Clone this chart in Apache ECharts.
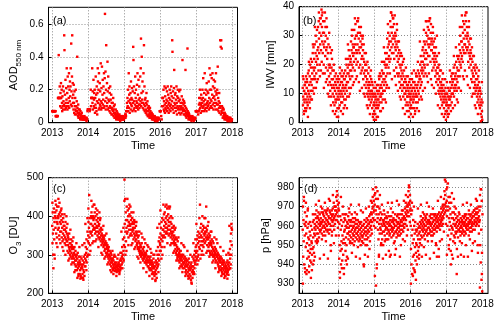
<!DOCTYPE html>
<html>
<head>
  <meta charset="utf-8">
  <title>AOD, IWV, O3, p 2013-2018</title>
  <script src="https://cdn.jsdelivr.net/npm/echarts@6.0.0/dist/echarts.min.js"></script>
  <style>
    html, body { margin: 0; padding: 0; background: #fff; }
    #main { width: 500px; height: 326px; }
  </style>
</head>
<body>
<div id="main"></div>
<script>
  // tick values
  var years = [2013, 2014, 2015, 2016, 2017, 2018];
  var aodTicks = [0, 0.2, 0.4, 0.6];
  var iwvTicks = [0, 10, 20, 30, 40];
  var o3Ticks = [200, 300, 400, 500];
  var pTicks = [930, 940, 950, 960, 970, 980];

  // 144 samples per year (about one every 2.5 days), one line per month, null = no data
  var aod2013 = [
    .07,.07,.07,.07,.07,.07,.07,.07,.07,.07,.07,.07,
    .07,.07,.04,.04,.04,.04,.04,.04,null,.04,.04,.15,
    .15,.15,.41,.15,.15,.15,.22,.15,.1,.18,.15,.24,
    .15,.09,.2,.12,.07,.16,.1,.22,.08,.13,.19,.11,
    .53,.44,.1,.17,.08,.26,.12,.09,.21,.14,.33,.1,
    .18,.08,.28,.12,.22,.1,.15,.3,.09,.2,.13,.25,
    .16,.22,.33,.11,.48,.19,.1,.28,.53,.15,.24,.12,
    .17,.08,.23,.12,.06,.19,.1,.05,.15,.08,.2,.07,
    .1,.05,.13,.07,.4,.09,.06,.04,.11,.03,.08,.05,
    .06,.03,.08,.05,.02,.07,.04,.03,.05,.02,.06,.03,
    .03,.02,.04,.02,.03,.02,.02,.03,.02,.04,.02,.03,
    .02,.03,.02,null,.02,.01,.03,null,.02,.07,.08,.08
  ];
  var aod2014 = [
    .08,.08,.08,.08,.08,.08,.07,null,.08,null,.2,.1,
    .15,.15,.15,.15,.33,.12,.19,.08,.15,.26,.1,.14,
    .18,.09,.2,.06,.15,.11,.28,.09,.17,.07,.22,.13,
    .05,.18,.33,.25,.12,.2,.08,.3,.14,.09,.24,.11,
    .19,.1,.36,.13,.08,.21,.12,.34,.09,.17,.26,.11,
    .14,.22,.09,.3,.18,.1,.27,.66,.13,.31,.08,.2,
    .47,.15,.1,.24,.12,.37,.19,.08,.28,.14,.09,.21,
    .13,.07,.18,.1,.22,.06,.14,.09,.17,.05,.12,.08,
    .09,.05,.12,.07,.15,.04,.08,.1,.06,.03,.11,.05,
    .06,.03,.08,.04,.02,.05,.07,.03,.04,.06,.02,.05,
    .03,.02,.04,.03,.02,.05,.02,.03,.01,.04,.02,.03,
    .02,.03,.02,.04,.02,.03,.02,.03,.04,.02,.03,.02
  ];
  var aod2015 = [
    .03,.03,.03,.03,.05,.03,.05,.04,.07,.07,.07,.12,
    .09,.15,.1,.2,.07,.13,.3,.09,.17,.22,.06,.14,
    .12,.18,.08,.25,.11,.15,.1,.21,.14,.07,.19,.12,
    .46,.38,.08,.22,.13,.09,.18,.11,.28,.07,.15,.2,
    .1,.13,.09,.23,.12,.3,.1,.17,.08,.26,.14,.11,
    .22,.09,.15,.11,.28,.13,.33,.51,.1,.18,.4,.12,
    .14,.25,.09,.19,.12,.3,.08,.47,.11,.22,.07,.14,
    .1,.15,.06,.12,.08,.18,.05,.11,.07,.13,.04,.09,
    .07,.04,.1,.05,.08,.03,.06,.09,.04,.07,.03,.05,
    .05,.03,.06,.02,.04,.03,.05,.02,.04,.03,.02,.04,
    .03,.02,.04,.01,.03,.02,.02,.03,.01,.02,.03,.02,
    .02,.01,.03,.02,.02,null,.03,null,.02,null,.07,.07
  ];
  var aod2016 = [
    .07,.07,.07,null,.04,null,.02,.1,null,.15,.15,.15,
    .1,.2,.08,.13,.07,.22,.11,.06,.16,.09,.21,.12,
    .08,.14,.1,.19,.07,.13,.22,.09,.17,.11,.06,.15,
    .12,.08,.2,.1,.14,.07,.18,.11,.22,.09,.16,.13,
    .5,.43,.08,.19,.1,.15,.06,.21,.32,.12,.09,.17,
    .11,.18,.07,.14,.09,.22,.12,.05,.16,.1,.2,.08,
    .15,.09,.13,.06,.19,.1,.14,.08,.2,.05,.12,.09,
    .1,.06,.16,.08,.12,.38,.09,.14,.07,.11,.05,.13,
    .08,.12,.05,.1,.07,.32,.04,.09,.06,.03,.08,.05,
    .06,.45,.07,.04,.05,.02,.06,.03,.05,.04,.02,.03,
    .03,.02,.04,.02,.03,.01,.02,.03,.02,.04,.02,.03,
    .02,.03,.01,.02,.03,.02,null,.02,null,.03,.07,.07
  ];
  var aod2017 = [
    .07,.07,.07,.07,null,.07,.07,null,.05,null,.07,.11,
    .15,.08,.12,.2,.09,.15,.06,.11,.17,.1,.14,.07,
    .12,.2,.09,.15,.27,.1,.13,.07,.18,.11,.3,.08,
    .14,.09,.2,.11,.17,.07,.24,.12,.09,.19,.13,.1,
    .18,.11,.25,.08,.15,.33,.12,.2,.09,.29,.14,.1,
    .2,.13,.27,.09,.17,.3,.11,.22,.15,.08,.26,.12,
    .16,.21,.1,.25,.14,.19,.08,.3,.12,.17,.18,.11,
    .2,.08,.34,.11,.15,.07,.13,.09,.18,.06,.12,.1,
    .5,.09,.46,.05,.5,.07,.45,.1,.06,.08,.03,.09,
    .06,.04,.08,.03,.05,.02,.06,.04,.03,.05,.02,.04,
    .04,.02,.03,.02,.04,.01,.03,.02,.03,.02,.01,.03,
    .02,.03,.02,.01,.02,.03,.01,.02,.02,.01,.02,.02
  ];

  var iwv2013 = [
    12,6,9,15,8,4,11,7,13,10,5,14,
    8,16,10,5,12,7,14,9,6,17,11,8,
    18,10,13,7,16,20,9,14,11,19,8,15,
    13,21,17,11,24,15,19,26,12,18,22,16,
    27,19,15,24,30,21,17,28,23,32,20,25,
    22,33,26,18,35,29,24,31,20,36,27,34,
    36,25,30,39,21,33,28,38,24,31,35,27,
    20,31,26,35,17,28,23,33,30,19,25,36,
    26,15,22,29,18,24,13,27,20,16,31,19,
    14,20,11,17,24,13,9,19,15,22,12,18,
    10,15,7,13,18,9,12,6,16,11,14,8,
    7,13,4,10,15,8,12,5,9,14,2,11
  ];
  var iwv2014 = [
    12,8,15,10,6,13,17,9,11,14,7,16,
    10,14,7,12,16,9,13,11,5,15,8,12,
    15,10,18,12,8,16,13,20,11,14,9,17,
    19,14,22,17,25,12,20,16,23,18,15,21,
    22,28,18,25,20,30,16,24,27,19,23,26,
    26,21,32,24,18,29,27,34,22,30,25,20,
    30,24,35,27,21,31,36,25,29,19,33,26,
    24,31,20,28,17,26,30,22,18,27,23,29,
    19,25,15,22,27,17,21,13,24,18,20,16,
    16,12,20,14,18,10,15,21,13,9,17,11,
    12,8,14,10,6,13,16,9,11,7,15,10,
    8,11,5,13,9,3,10,6,12,7,4,9
  ];
  var iwv2015 = [
    6,10,3,8,12,5,9,7,2,11,6,8,
    10,5,13,8,6,11,15,7,9,12,4,10,
    13,9,16,7,12,18,10,14,8,17,11,15,
    17,13,21,15,11,20,24,14,19,16,22,12,
    24,20,29,17,26,22,31,19,27,23,28,21,
    30,25,35,22,33,28,38,26,31,24,37,29,
    33,27,36,24,30,34,22,29,37,26,31,28,
    25,30,19,27,23,32,17,26,21,28,16,24,
    22,17,25,14,20,23,12,19,16,24,13,18,
    15,20,11,17,13,21,9,16,12,18,14,10,
    12,8,15,10,6,14,11,16,7,13,9,12,
    9,13,6,11,4,10,14,7,12,5,9,8
  ];
  var iwv2016 = [
    10,6,13,8,11,15,5,12,9,7,14,10,
    8,12,5,14,9,11,4,13,7,10,16,9,
    12,16,9,13,7,18,11,14,10,17,8,15,
    16,12,20,15,23,13,18,21,14,19,17,25,
    21,26,18,23,16,28,20,24,19,27,22,17,
    25,31,22,28,35,24,30,20,33,27,23,29,
    32,26,35,23,29,36,27,21,31,34,25,28,
    25,29,18,27,22,31,24,19,28,21,26,23,
    20,24,16,22,18,26,14,21,17,23,19,15,
    17,13,19,11,15,20,10,16,12,18,14,9,
    11,14,8,13,10,6,12,15,7,11,9,13,
    8,5,11,7,10,3,9,12,4,8,6,10
  ];
  var iwv2017 = [
    7,4,10,6,3,9,12,5,8,11,6,9,
    11,8,14,6,12,9,16,10,7,13,15,10,
    14,10,17,12,19,9,15,11,20,13,16,12,
    17,13,21,15,11,19,23,14,18,16,22,12,
    23,18,27,21,16,25,30,20,24,19,28,22,
    28,23,33,26,21,31,35,25,29,24,34,27,
    32,27,37,24,30,35,26,38,29,33,25,31,
    26,30,21,28,24,33,19,27,23,29,22,25,
    20,24,15,22,18,26,14,21,17,23,16,19,
    16,12,19,14,10,18,13,20,11,15,17,12,
    12,9,15,7,13,10,16,8,11,14,6,12,
    9,5,11,7,3,10,6,8,2,4,1,7
  ];
  // extra IWV days at the edges of the spread, 3 per month, 2013-2017
  var iwvEdge = [
    16,3,13, 4,15,2, 21,5,22, 8,27,10, 33,12,14, 15,38,16, 18,37,17, 12,38,14, 33,10,9, 26,6,25, 4,20,3, 17,2,16,
    5,19,4, 18,3,17, 6,22,5, 27,9,10, 12,32,13, 14,36,15, 16,35,14, 11,33,12, 30,10,9, 24,6,5, 19,3,18, 14,2,1,
    14,1,13, 2,16,17, 4,21,5, 26,8,7, 13,34,12, 17,38,15, 36,18,16, 13,34,11, 28,9,8, 23,5,22, 3,19,4, 16,2,15,
    3,17,2, 18,3,17, 5,21,4, 28,9,8, 11,32,12, 35,16,14, 17,36,15, 13,33,12, 29,10,30, 6,24,5, 18,3,17, 2,15,1,
    14,2,3, 18,4,17, 5,23,6, 26,8,7, 12,33,11, 37,16,15, 18,38,16, 13,35,12, 29,9,10, 23,6,5, 19,3,18, 12,0.5,14
  ];

  var o32013 = [
    375,330,410,355,300,395,365,420,340,385,290,400,
    410,370,395,430,355,415,385,345,425,380,400,365,
    395,425,370,405,350,435,385,410,360,400,380,415,
    360,390,345,405,370,335,385,355,395,340,375,365,
    350,375,330,365,345,385,325,360,340,370,335,355,
    335,310,350,325,345,305,340,320,355,315,330,300,
    310,330,295,320,340,305,325,290,315,335,300,320,
    295,315,280,305,290,320,275,300,285,310,270,295,
    285,270,300,260,290,275,305,265,280,250,295,275,
    270,285,250,280,260,295,245,275,265,290,240,270,
    265,250,285,240,275,260,295,255,280,245,270,300,
    290,270,320,285,305,340,280,315,295,360,300,335
  ];
  var o32014 = [
    350,385,330,370,455,345,395,360,325,380,355,400,
    380,410,360,395,350,425,375,400,365,390,430,370,
    395,365,410,380,355,400,370,420,360,390,375,405,
    370,350,385,360,395,345,375,355,380,340,365,390,
    345,360,335,370,350,325,355,340,365,330,350,345,
    335,320,345,325,340,310,330,350,315,335,325,305,
    315,330,300,320,305,325,295,315,310,290,320,300,
    300,285,310,275,295,290,305,280,270,300,285,290,
    280,265,290,275,260,285,270,295,265,275,258,280,
    265,275,258,270,262,280,255,268,272,260,275,263,
    270,258,280,262,275,255,268,285,260,272,290,265,
    285,305,275,295,320,280,300,340,290,310,285,325
  ];
  var o32015 = [
    345,495,380,320,445,360,410,335,390,370,425,355,
    390,360,415,375,400,345,385,420,365,405,380,350,
    375,400,355,390,365,410,350,380,395,360,385,370,
    365,340,380,355,390,345,370,350,385,335,360,375,
    340,355,325,350,330,360,315,345,320,335,350,310,
    315,330,305,320,300,325,310,295,320,305,330,300,
    305,290,315,300,285,310,295,320,290,305,280,300,
    295,280,305,285,300,275,290,310,280,295,270,285,
    285,270,295,265,280,290,260,285,275,295,265,280,
    275,260,285,250,270,280,255,275,265,290,250,270,
    265,245,280,255,270,235,260,285,250,275,240,265,
    280,300,270,320,290,275,335,300,285,345,310,330
  ];
  var o32016 = [
    325,355,310,370,340,385,320,350,395,335,365,345,
    365,390,350,405,375,360,410,345,385,370,395,355,
    380,360,400,370,420,355,390,365,405,375,350,385,
    375,395,355,425,365,385,345,400,360,380,350,370,
    355,340,370,330,360,345,375,335,350,325,365,340,
    330,315,345,305,325,300,340,310,320,295,335,315,
    300,285,315,295,305,280,310,290,300,285,310,295,
    290,275,300,270,285,295,265,280,300,275,290,280,
    280,265,295,270,285,255,275,290,260,280,270,285,
    270,285,255,275,245,265,290,260,280,250,270,265,
    260,245,275,235,265,280,225,255,270,240,260,250,
    270,290,255,285,300,265,280,310,275,295,320,285
  ];
  var o32017 = [
    305,325,290,340,310,350,295,330,360,300,345,320,
    335,355,315,430,345,370,325,350,380,335,360,310,
    345,325,365,335,375,320,355,340,370,350,330,360,
    355,335,370,345,425,360,340,365,325,350,375,345,
    340,320,355,330,310,345,325,350,305,335,360,330,
    325,310,340,300,320,305,335,295,315,330,310,300,
    310,295,320,290,305,280,315,300,285,310,295,300,
    295,280,305,275,290,270,300,285,265,295,280,290,
    285,270,295,260,280,265,290,255,275,285,265,280,
    275,260,285,250,270,280,255,265,245,275,260,270,
    270,255,280,250,265,285,255,260,275,248,270,262,
    280,300,265,315,290,335,275,355,300,370,325,365
  ];
  // extra O3 days at the edges of the spread, 3 per month, 2013-2017
  var o3Edge = [
    435,265,300, 440,330,320, 445,340,330, 420,320,310, 405,300,400, 380,285,290, 365,275,280, 345,255,260, 330,240,245, 320,238,240, 325,235,330, 380,260,395,
    420,300,310, 440,330,335, 430,335,340, 415,320,410, 395,305,300, 375,290,295, 355,275,280, 340,260,255, 310,250,300, 295,245,290, 300,250,305, 360,265,370,
    440,300,310, 445,325,430, 425,325,330, 410,315,320, 385,295,290, 360,280,355, 345,265,340, 330,255,325, 320,245,315, 305,238,300, 300,232,310, 370,255,380,
    415,290,300, 430,320,425, 430,330,425, 420,325,330, 395,305,310, 370,285,290, 345,265,270, 330,255,325, 320,245,250, 310,238,240, 300,228,295, 330,250,340,
    380,275,285, 395,290,300, 400,300,395, 395,305,310, 385,295,300, 360,280,285, 345,265,340, 330,255,260, 320,245,250, 310,240,245, 300,238,305, 375,265,380
  ];

  var p2013 = [
    958,970,944,963,952,973,940,961,955,967,936,960,
    949,962,956,935,965,951,943,959,968,947,954,961,
    944,953,939,950,957,946,942,955,948,960,941,952,
    951,945,958,948,962,940,954,949,963,946,956,959,
    961,955,966,958,952,964,960,968,956,962,953,965,
    959,964,956,967,961,954,963,958,966,960,957,962,
    964,958,961,967,956,962,969,959,963,955,966,960,
    960,965,957,962,968,959,955,964,961,967,958,963,
    966,960,963,957,969,962,958,965,961,956,964,968,
    961,967,958,964,950,966,960,963,968,957,965,962,
    969,963,966,960,972,964,958,970,965,961,968,963,
    970,966,975,968,963,973,967,976,965,971,962,969
  ];
  var p2014 = [
    955,968,943,961,950,933,965,947,958,940,963,952,
    948,960,942,955,966,951,945,962,953,938,957,964,
    958,951,963,947,960,954,966,950,959,944,962,956,
    961,956,965,953,959,963,957,967,955,960,952,962,
    957,963,954,960,966,958,951,962,956,964,959,955,
    960,955,962,957,952,964,958,961,954,959,963,956,
    956,961,953,959,963,957,955,960,952,962,958,954,
    958,953,961,956,950,959,962,955,957,952,960,954,
    955,960,951,958,940,961,956,963,953,957,959,950,
    959,955,962,957,964,953,960,956,963,958,954,961,
    961,957,965,948,962,959,966,955,963,960,967,958,
    966,972,962,969,975,964,970,967,973,963,968,976
  ];
  var p2015 = [
    971,963,977,959,968,929,974,966,938,970,962,978,
    964,958,970,953,966,945,961,969,956,963,959,967,
    958,964,951,961,956,966,953,960,963,957,950,962,
    963,957,961,966,955,960,964,958,953,962,959,965,
    959,964,956,961,967,958,953,962,957,965,960,955,
    961,956,963,958,945,960,965,954,962,959,957,963,
    958,962,955,964,959,961,956,963,952,960,966,957,
    963,957,960,954,962,958,965,956,961,959,955,962,
    959,964,957,961,955,966,960,958,963,956,962,960,
    962,966,958,964,960,968,957,963,961,965,959,964,
    964,969,961,967,972,963,966,970,960,968,965,971,
    970,975,967,978,972,965,980,971,968,976,973,969
  ];
  var p2016 = [
    960,948,966,940,955,968,935,958,951,944,963,938,
    953,945,960,937,956,949,962,942,958,946,951,957,
    950,958,944,955,961,947,953,959,949,956,945,960,
    957,962,953,959,965,955,961,950,963,958,954,960,
    962,957,964,959,955,961,966,958,963,956,960,965,
    960,964,957,962,958,966,955,961,963,959,956,962,
    959,963,956,961,965,958,962,957,960,964,955,961,
    961,957,964,959,955,962,966,958,963,956,960,965,
    963,958,961,966,959,964,950,962,957,965,960,963,
    962,966,959,964,948,961,967,960,963,958,965,961,
    966,962,969,964,960,967,963,970,965,961,968,964,
    969,974,966,978,971,967,976,970,983,972,968,979
  ];
  var p2017 = [
    973,965,980,960,970,955,968,975,950,964,972,958,
    962,969,953,966,947,960,972,956,964,945,959,967,
    958,964,952,961,967,955,963,970,954,960,966,957,
    961,956,964,959,935,962,957,965,960,954,963,958,
    963,958,961,966,957,962,959,955,964,960,957,962,
    959,963,956,961,965,958,962,957,960,964,955,961,
    962,957,965,960,956,963,959,966,961,958,964,960,
    960,964,958,962,955,961,966,959,963,957,962,965,
    963,959,966,961,957,964,960,962,967,958,965,961,
    965,961,968,963,958,966,962,969,960,964,967,962,
    966,961,969,963,950,967,964,970,960,965,962,968,
    963,976,950,970,941,979,958,932,973,946,926,966
  ];
  // extra pressure days at the edges of the spread, 3 per month, 2013-2017
  var pEdge = [
    930,975,938, 972,937,969, 936,962,933, 937,966,942, 944,971,951, 952,973,943, 970,953,967, 945,972,952, 968,943,974, 973,947,955, 976,951,970, 955,978,959,
    972,936,975, 938,970,935, 966,942,940, 943,969,951, 971,946,953, 950,967,944, 966,949,971, 943,968,952, 967,939,945, 969,950,944, 970,952,973, 956,979,960,
    934,980,940, 974,944,976, 950,971,943, 968,952,945, 953,972,947, 944,969,972, 967,951,945, 948,973,966, 971,944,950, 968,953,973, 952,976,955, 958,981,962,
    930,972,934, 970,936,932, 940,969,943, 951,971,944, 967,949,953, 945,972,952, 970,943,966, 952,969,946, 966,951,944, 973,944,952, 975,953,971, 957,984,961,
    945,982,948, 975,940,977, 943,974,951, 969,948,944, 967,952,945, 951,971,944, 966,950,972, 944,968,953, 971,947,951, 968,952,974, 973,946,956, 928,979,935
  ];

  // turn yearly sample lists into [decimal year, value] pairs
  function toPoints(yearLists) {
    var out = [];
    yearLists.forEach(function (arr, k) {
      arr.forEach(function (v, i) {
        if (v !== null) out.push([2013 + k + (i + 0.5) / arr.length, v]);
      });
    });
    return out;
  }
  // 36 samples per year running from 2013
  function edgePoints(arr) {
    return arr.map(function (v, i) { return [2013 + (i + 0.3) / 36, v]; });
  }

  var FONT = 'Liberation Sans, Arial, sans-serif';

  function xAx(i) {
    return {
      type: 'value', gridIndex: i, min: 2012.9, max: 2018.15,
      name: 'Time', nameLocation: 'middle', nameGap: 18,
      nameTextStyle: { fontSize: 11, color: '#000', fontFamily: FONT },
      axisLine: { show: true, onZero: false, lineStyle: { color: '#000', width: 1 } },
      axisTick: { show: true, inside: true, length: 3, customValues: years, lineStyle: { color: '#000' } },
      axisLabel: {
        customValues: years, fontSize: 10, color: '#000', margin: 6, fontFamily: FONT,
        formatter: function (v) { return String(v); }
      },
      splitLine: { show: true, customValues: years, lineStyle: { type: [1, 2], color: '#8c8c8c', width: 1 } }
    };
  }

  function yAx(i, min, max, ticks, name, gap, dec) {
    return {
      type: 'value', gridIndex: i, min: min, max: max,
      name: name, nameLocation: 'middle', nameGap: gap,
      nameTextStyle: {
        fontSize: 11, color: '#000', fontFamily: FONT,
        rich: {
          a: { fontSize: 11, color: '#000', fontFamily: FONT, verticalAlign: 'bottom', padding: [0, 0, 3, 0] },
          s: { fontSize: 8, color: '#000', fontFamily: FONT, verticalAlign: 'bottom' }
        }
      },
      axisLine: { show: true, onZero: false, lineStyle: { color: '#000', width: 1 } },
      axisTick: { show: true, inside: true, length: 3, customValues: ticks, lineStyle: { color: '#000' } },
      axisLabel: {
        customValues: ticks, fontSize: 10, color: '#000', margin: 5, fontFamily: FONT,
        formatter: function (v) { return dec ? (v === 0 ? '0' : v.toFixed(1)) : String(v); }
      },
      splitLine: { show: true, customValues: ticks, lineStyle: { type: [1, 2], color: '#8c8c8c', width: 1 } }
    };
  }

  var grids = [
    { left: 48.5, top: 7.3, width: 189, height: 115.4 },
    { left: 299, top: 6.7, width: 189, height: 116 },
    { left: 48.5, top: 177.7, width: 189, height: 115.6 },
    { left: 299, top: 177.7, width: 189, height: 115.6 }
  ].map(function (g) {
    g.show = true; g.borderColor = '#000'; g.borderWidth = 1; g.backgroundColor = 'transparent';
    return g;
  });

  function scatter(i, data) {
    return {
      type: 'scatter', xAxisIndex: i, yAxisIndex: i, data: data,
      symbol: 'rect', symbolSize: 2.4, itemStyle: { color: '#ff0000', opacity: 1 },
      silent: true, animation: false
    };
  }

  function letter(txt, x, y) {
    return { type: 'text', left: x, top: y, style: { text: txt, font: '11px ' + FONT, fill: '#000' } };
  }

  var chart = echarts.init(document.getElementById('main'));
  chart.setOption({
    animation: false,
    grid: grids,
    xAxis: [xAx(0), xAx(1), xAx(2), xAx(3)],
    yAxis: [
      yAx(0, 0, 0.7, aodTicks, '{a|AOD}{s|550 nm}', 26, true),
      yAx(1, 0, 40, iwvTicks, 'IWV [mm]', 23, false),
      yAx(2, 200, 500, o3Ticks, '{a|O}{s|3}{a| [DU]}', 26, false),
      yAx(3, 925, 985, pTicks, 'p [hPa]', 28, false)
    ],
    series: [
      scatter(0, toPoints([aod2013, aod2014, aod2015, aod2016, aod2017])),
      scatter(1, toPoints([iwv2013, iwv2014, iwv2015, iwv2016, iwv2017]).concat(edgePoints(iwvEdge))),
      scatter(2, toPoints([o32013, o32014, o32015, o32016, o32017]).concat(edgePoints(o3Edge))),
      scatter(3, toPoints([p2013, p2014, p2015, p2016, p2017]).concat(edgePoints(pEdge)))
    ],
    graphic: [
      letter('(a)', 53, 15),
      letter('(b)', 303, 15),
      letter('(c)', 53, 183),
      letter('(d)', 304, 183)
    ]
  });
</script>
</body>
</html>
